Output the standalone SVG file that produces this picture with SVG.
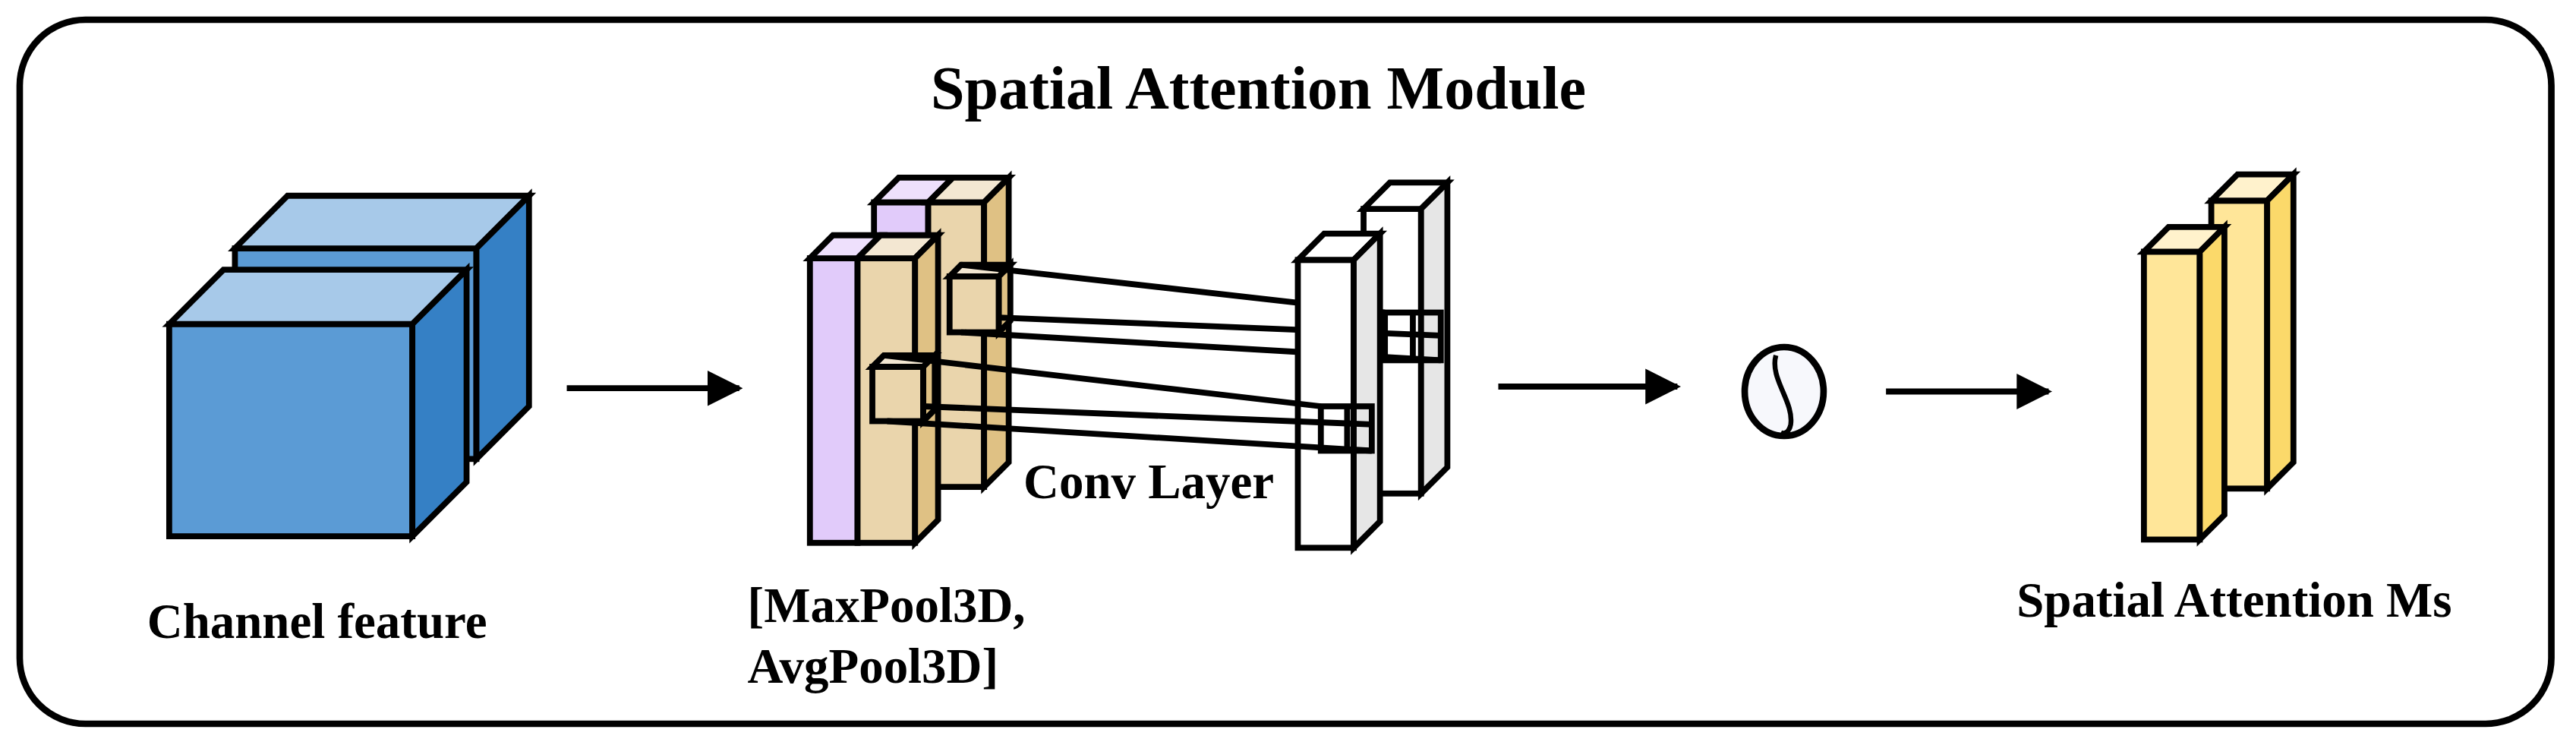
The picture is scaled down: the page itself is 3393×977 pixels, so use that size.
<svg xmlns="http://www.w3.org/2000/svg" width="3393" height="977" viewBox="0 0 3393 977">
<defs>
<style>
.s{stroke:#000;stroke-width:3.6;stroke-linejoin:miter}
.t{font-family:"Liberation Serif",serif;font-weight:bold;fill:#000}
.bf{fill:#5B9BD5}.bt{fill:#A7C9E9}.bs{fill:#3580C5}
.pf{fill:#E1CBFA}.pt{fill:#EEE0FC}
.tf{fill:#EAD5AC}.tt{fill:#F3E7D2}.ts{fill:#DFC184}
.wf{fill:#fff}.ws{fill:#E6E6E6}
.yf{fill:#FFE699}.yt{fill:#FFF2CC}.ys{fill:#FBD96A}
.ln{stroke:#000;stroke-width:3.6;fill:none}
</style>
<marker id="ah" viewBox="0 0 10 10" refX="9" refY="5" markerWidth="6" markerHeight="7" markerUnits="strokeWidth" orient="auto"><path d="M0,0 L10,5 L0,10 z" fill="#000"/></marker>
</defs>
<rect width="3393" height="977" fill="#fff"/>
<g transform="scale(2.1639 2.166)">
<rect x="12" y="12" width="1541" height="428" rx="40" fill="#fff" stroke="#000" stroke-width="4"/>
<text class="t" x="766" y="66" font-size="37" text-anchor="middle">Spatial Attention Module</text>

<g id="channel-feature">
<rect class="s bf" x="143" y="151" width="147" height="128"/>
<polygon class="s bt" points="143,151 175,119 322,119 290,151"/>
<polygon class="s bs" points="290,151 322,119 322,247 290,279"/>
<rect class="s bf" x="103" y="197" width="148" height="129"/>
<polygon class="s bt" points="103,197 136,164 284,164 251,197"/>
<polygon class="s bs" points="251,197 284,164 284,293 251,326"/>
<text class="t" x="193" y="388" font-size="30" text-anchor="middle">Channel feature</text>
</g>

<g id="pool">
<rect class="s pf" x="532" y="123" width="33" height="173"/>
<rect class="s tf" x="565" y="123" width="34" height="173"/>
<polygon class="s pt" points="532,123 547,108 580,108 565,123"/>
<polygon class="s tt" points="565,123 580,108 614,108 599,123"/>
<polygon class="s ts" points="599,123 614,108 614,281 599,296"/>
<rect class="s tf" x="578" y="168" width="30" height="34"/>
<polygon class="s tt" points="578,168 585,161 615,161 608,168"/>
<polygon class="s ts" points="608,168 615,161 615,195 608,202"/>
<rect class="s pf" x="493" y="157" width="29" height="173"/>
<rect class="s tf" x="522" y="157" width="35" height="173"/>
<polygon class="s pt" points="493,157 507,143 536,143 522,157"/>
<polygon class="s tt" points="522,157 536,143 571,143 557,157"/>
<polygon class="s ts" points="557,157 571,143 571,316 557,330"/>
<rect class="s tf" x="531" y="223" width="31" height="33"/>
<polygon class="s tt" points="531,223 538,216 569,216 562,223"/>
<polygon class="s ts" points="562,223 569,216 569,249 562,256"/>
<text class="t" x="455" y="378" font-size="30">[MaxPool3D,</text>
<text class="t" x="455" y="415" font-size="30">AvgPool3D]</text>
</g>

<g id="conv-back">
<rect class="s wf" x="830" y="127" width="35" height="173"/>
<polygon class="s wf" points="830,127 846,111 881,111 865,127"/>
<polygon class="s ws" points="865,127 881,111 881,284 865,300"/>
<rect class="s" fill="none" x="843" y="190" width="34" height="29"/>
<line class="ln" x1="860" y1="190" x2="860" y2="219"/>
</g>

<g id="connectors">
<line class="ln" x1="585" y1="161" x2="843" y2="190"/>
<line class="ln" x1="608" y1="193" x2="877" y2="204"/>
<line class="ln" x1="585" y1="202" x2="877" y2="219"/>
<line class="ln" x1="345" y1="236" x2="450" y2="236" marker-end="url(#ah)"/>
<line class="ln" x1="912" y1="235" x2="1021" y2="235" marker-end="url(#ah)"/>
<line class="ln" x1="1148" y1="238" x2="1247" y2="238" marker-end="url(#ah)"/>
</g>

<g id="conv-front">
<rect class="s wf" x="790" y="158" width="34" height="175"/>
<polygon class="s wf" points="790,158 806,142 840,142 824,158"/>
<polygon class="s ws" points="824,158 840,142 840,317 824,333"/>
<text class="t" x="623" y="303" font-size="30">Conv Layer</text>
</g>

<g id="connectors-lower">
<line class="ln" x1="538" y1="216" x2="804" y2="247"/>
<line class="ln" x1="562" y1="247" x2="835" y2="258"/>
<line class="ln" x1="540" y1="256" x2="835" y2="274"/>
<rect class="s" fill="none" x="804" y="247" width="31" height="27"/>
<line class="ln" x1="820" y1="247" x2="820" y2="274"/>
</g>

<g id="sigmoid">
<ellipse cx="1086" cy="238" rx="24" ry="27" fill="#F7F8FC" stroke="#000" stroke-width="4"/>
<path d="M1081,216 C1077,230 1092,244 1090,258 C1089,263 1086,264 1084,263" fill="none" stroke="#000" stroke-width="3"/>
</g>

<g id="spatial-attention">
<rect class="s yf" x="1346" y="122" width="34" height="175"/>
<polygon class="s yt" points="1346,122 1362,106 1396,106 1380,122"/>
<polygon class="s ys" points="1380,122 1396,106 1396,281 1380,297"/>
<rect class="s yf" x="1305" y="153" width="34" height="175"/>
<polygon class="s yt" points="1305,153 1320,138 1354,138 1339,153"/>
<polygon class="s ys" points="1339,153 1354,138 1354,313 1339,328"/>
<text class="t" x="1360" y="375" font-size="30" text-anchor="middle">Spatial Attention Ms</text>
</g>
</g>
</svg>
